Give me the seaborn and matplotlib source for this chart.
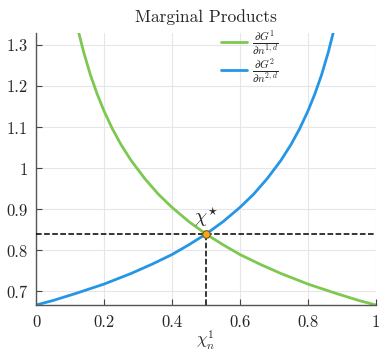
import numpy as np
import pandas as pd
import matplotlib
matplotlib.use('Agg')
import matplotlib.pyplot as plt
from matplotlib.ticker import FormatStrFormatter
import seaborn as sns

# values
green_x = [0.125, 0.14, 0.16, 0.18, 0.2, 0.225, 0.25, 0.28, 0.32, 0.36, 0.4,
           0.45, 0.5, 0.55, 0.6, 0.66, 0.72, 0.8, 0.88, 0.95, 1.0]
green_y = [1.333, 1.284, 1.228, 1.181, 1.140, 1.096, 1.058, 1.019, 0.975, 0.937, 0.905,
           0.870, 0.840, 0.814, 0.790, 0.766, 0.744, 0.718, 0.696, 0.678, 0.667]
blue_x = [0.0, 0.05, 0.12, 0.2, 0.28, 0.34, 0.4, 0.45, 0.5, 0.55, 0.6,
          0.64, 0.68, 0.72, 0.75, 0.775, 0.8, 0.82, 0.84, 0.86, 0.875]
blue_y = [0.667, 0.678, 0.696, 0.718, 0.744, 0.766, 0.790, 0.814, 0.840, 0.870, 0.905,
          0.937, 0.975, 1.019, 1.058, 1.096, 1.140, 1.181, 1.228, 1.284, 1.333]
star_x = 0.5
star_y = 0.84
labels = [r'$\frac{\partial G^1}{\partial n^{1,d}}$', r'$\frac{\partial G^2}{\partial n^{2,d}}$']

sns.set_style('whitegrid')
plt.rcParams['font.family'] = 'serif'
plt.rcParams['font.serif'] = ['cmr10']
plt.rcParams['mathtext.fontset'] = 'cm'
plt.rcParams['axes.formatter.use_mathtext'] = True

df = pd.concat([
    pd.DataFrame({'x': green_x, 'y': green_y, 'series': labels[0]}),
    pd.DataFrame({'x': blue_x, 'y': blue_y, 'series': labels[1]}),
])

fig = plt.figure(figsize=(3.79, 3.51), dpi=100)
ax = fig.add_axes([0.095, 0.131, 0.897, 0.775])

sns.lineplot(data=df, x='x', y='y', hue='series', sort=False,
             palette=['#7dc850', '#2596e6'], linewidth=2, ax=ax)

ax.plot([0, 1], [star_y, star_y], ls='--', color='black', lw=1.1, zorder=3)
ax.plot([star_x, star_x], [0.667, star_y], ls='--', color='black', lw=1.1, zorder=3)
ax.scatter([star_x], [star_y], s=30, color='#f5a623', edgecolor='#7a5a10', linewidth=0.8, zorder=5)
ax.text(star_x, star_y + 0.012, r'$\chi^{\star}$', ha='center', va='bottom', fontsize=14)

ax.set_xlim(0, 1)
ax.set_ylim(0.667, 1.33)
ax.set_xticks([0, 0.2, 0.4, 0.6, 0.8, 1])
ax.set_yticks([0.7, 0.8, 0.9, 1.0, 1.1, 1.2, 1.3])
ax.xaxis.set_major_formatter(FormatStrFormatter('%g'))
ax.yaxis.set_major_formatter(FormatStrFormatter('%g'))
ax.tick_params(direction='in', length=4, color='#444444', labelsize=12, pad=6)
ax.tick_params(axis='x', bottom=True, pad=7)
ax.tick_params(axis='y', left=True)
ax.grid(True, color='#e6e6e6', lw=0.8)
for s in ['top', 'right']:
    ax.spines[s].set_visible(False)
for s in ['left', 'bottom']:
    ax.spines[s].set_color('#555555')
    ax.spines[s].set_linewidth(1.0)

ax.set_xlabel(r'$\chi_n^1$', fontsize=12, labelpad=-1)
ax.set_ylabel('')
ax.set_title('Marginal Products', fontsize=12.5, pad=8)

leg = ax.legend(loc='upper left', bbox_to_anchor=(0.545, 1.015), frameon=False,
                fontsize=11.5, handlelength=1.6, handletextpad=0.35,
                labelspacing=-0.1, borderpad=0, borderaxespad=0)

fig.savefig('out.png', dpi=100)
